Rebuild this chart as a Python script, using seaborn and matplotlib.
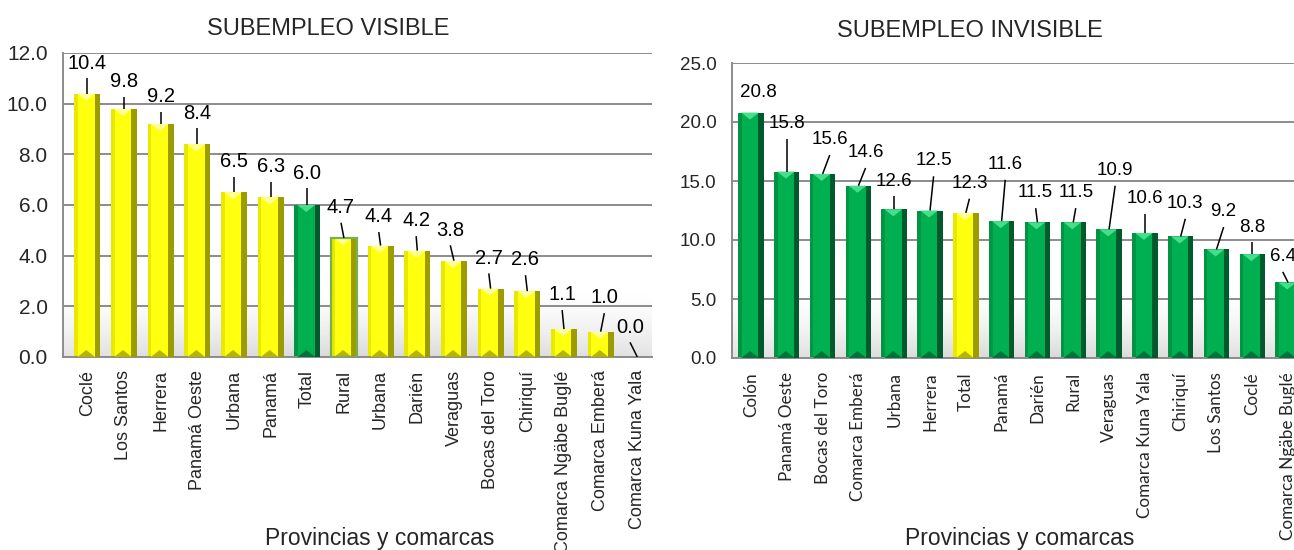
import numpy as np
import pandas as pd
import matplotlib
matplotlib.use("Agg")
import matplotlib.pyplot as plt
from matplotlib.path import Path
import seaborn as sns

# ---------------- data ----------------
visible_labels = ['Coclé', 'Los Santos', 'Herrera', 'Panamá Oeste', 'Urbana', 'Panamá',
                  'Total', 'Rural', 'Urbana', 'Darién', 'Veraguas', 'Bocas del Toro',
                  'Chiriquí', 'Comarca Ngäbe Buglé', 'Comarca Emberá', 'Comarca Kuna Yala']
visible_values = [10.4, 9.8, 9.2, 8.4, 6.5, 6.3, 6.0, 4.7, 4.4, 4.2, 3.8, 2.7, 2.6, 1.1, 1.0, 0.0]

invisible_labels = ['Colón', 'Panamá Oeste', 'Bocas del Toro', 'Comarca Emberá', 'Urbana',
                    'Herrera', 'Total', 'Panamá', 'Darién', 'Rural', 'Veraguas',
                    'Comarca Kuna Yala', 'Chiriquí', 'Los Santos', 'Coclé', 'Comarca Ngäbe Buglé']
invisible_values = [20.8, 15.8, 15.6, 14.6, 12.6, 12.5, 12.3, 11.6, 11.5, 11.5, 10.9, 10.6,
                    10.3, 9.2, 8.8, 6.4]

# label placement (offsets from bar top: category units, data units)
visible_dx = [0, 0, 0, 0, 0, 0, 0, -0.08, -0.05, -0.03, -0.1, -0.05, -0.05, -0.05, 0.1, -0.2]
visible_dy = [1.2, 1.06, 1.07, 1.23, 1.2, 1.2, 1.26, 1.2, 1.13, 1.17, 1.21, 1.2, 1.23, 1.35, 1.33, 1.18]
invisible_dx = [0.2, 0, 0.2, 0.2, 0, 0.1, 0.1, 0.1, -0.05, 0.07, 0.17, 0, 0.13, 0.2, 0, -0.15]
invisible_dy = [1.7, 4.1, 2.9, 2.8, 2.4, 4.2, 2.5, 4.8, 2.5, 2.5, 5.0, 2.9, 2.8, 3.2, 2.3, 2.2]

YELLOW = dict(left='#E8E800', face='#FFFF10', right='#9C9C00', tip='#FFFF9A', base='#B5B500')
GREEN = dict(left='#009443', face='#00B050', right='#005A2C', tip='#45DE8A', base='#00733A')

sns.set_theme(style="white")
plt.rcParams['font.family'] = ['Liberation Sans', 'DejaVu Sans']

fig = plt.figure(figsize=(12.94, 5.5), dpi=100)
W, H = 1294, 550


def px_axes(l, t, r, b):
    return fig.add_axes([l / W, 1 - b / H, (r - l) / W, (b - t) / H])


tip_marker = Path([(-1, 0), (1, 0), (0, -0.8), (-1, 0)])
base_marker = Path([(-1, 0), (1, 0), (0, 0.8), (-1, 0)])


def draw_panel(ax, labels, values, main, other, dxs, dys, ymax, ystep, gap,
               floor_h, xlim, tick_fs, tick_pad, val_fs, lab_font, lab_fs, lab_pad, outline=None):
    n = len(values)
    pal = [other if lab == 'Total' else main for lab in labels]
    df = pd.DataFrame({'pos': np.arange(n), 'val': values})
    w = 0.71
    sns.barplot(data=df, x='pos', y='val', hue='pos', palette=[p['left'] for p in pal],
                legend=False, width=w, saturation=1, ax=ax, zorder=2, linewidth=0)
    x = np.arange(n)
    v = np.array(values)
    rs, ls = 0.15, 0.10
    ax.bar(x + w / 2 - rs / 2, v, width=rs, color=[p['right'] for p in pal], zorder=3, linewidth=0)
    cw = w - rs - ls
    ax.bar(x - w / 2 + ls + cw / 2, v, width=cw, color=[p['face'] for p in pal], zorder=3, linewidth=0)
    cx = x - w / 2 + ls + cw / 2
    nz = v > 0
    ax.scatter(cx[nz], v[nz], marker=tip_marker, s=160, c=[p['tip'] for p, k in zip(pal, nz) if k],
               linewidths=0, zorder=4)
    ax.scatter(cx[nz], np.zeros(nz.sum()), marker=base_marker, s=160,
               c=[p['base'] for p, k in zip(pal, nz) if k], linewidths=0, zorder=4)
    if outline is not None:
        ax.bar(outline, values[outline], width=w, fill=False, edgecolor='#78B04A', linewidth=1.6, zorder=5)

    # floor shadow
    gy = np.linspace(0, 1, 80)[:, None]
    gx = np.linspace(0, 1, 200)[None, :]
    alpha = (gy ** 1.6) * 0.32 * (0.75 + 0.25 * np.sin(np.pi * gx))
    img = np.zeros((80, 200, 4))
    img[..., :3] = 0.55
    img[..., 3] = alpha
    ax.imshow(img, extent=[xlim[0], xlim[1], 0.05, floor_h], origin='upper', aspect='auto', zorder=1)

    # value labels with leader lines
    for i, (val, dx, dy) in enumerate(zip(values, dxs, dys)):
        ax.text(i + dx, val + dy, f"{val:.1f}", ha='center', va='center', fontsize=val_fs,
                color='black', zorder=6)
        if dy - gap > 0.5 * gap:
            ax.plot([i + dx, i], [val + dy - gap, val], color='black', lw=1.1, zorder=6,
                    solid_capstyle='butt')

    ax.set_xlim(*xlim)
    ax.set_ylim(0, ymax)
    ticks = np.arange(0, ymax + 0.01, ystep)
    ax.set_yticks(ticks)
    ax.set_yticklabels([f"{t:.1f}" for t in ticks], fontsize=tick_fs)
    ax.set_xticks(x)
    ax.set_xticklabels(labels, rotation=90, fontsize=lab_fs, family=lab_font, va='top')
    ax.tick_params(axis='x', length=0, pad=lab_pad)
    ax.tick_params(axis='y', length=0, pad=tick_pad)
    ax.grid(axis='y', color='#8C8C8C', linewidth=1.4)
    ax.set_axisbelow(True)
    ax.set_xlabel('')
    ax.set_ylabel('')
    for s in ['top', 'right']:
        ax.spines[s].set_visible(False)
    for s in ['left', 'bottom']:
        ax.spines[s].set_color('#8C8C8C')
        ax.spines[s].set_linewidth(1.4)
    ax.patch.set_alpha(0)


ax1 = px_axes(63, 53, 652, 357)
draw_panel(ax1, visible_labels, visible_values, YELLOW, GREEN, visible_dx, visible_dy,
           12, 2, 0.6, 2.7, (-0.66, 15.4), 15, 11, 14.5, ['Liberation Sans', 'DejaVu Sans'], 13, 9.5,
           outline=7)

ax2 = px_axes(732, 63, 1306, 358)
draw_panel(ax2, invisible_labels, invisible_values, GREEN, YELLOW, invisible_dx, invisible_dy,
           25, 5, 1.3, 5.5, (-0.53, 15.5), 13.5, 11, 13.5, ['Lato', 'DejaVu Sans'], 12.3, 10)

fig.text(328 / W, 1 - 35 / H, 'SUBEMPLEO VISIBLE', ha='center', va='baseline', fontsize=17)
fig.text(970 / W, 1 - 37 / H, 'SUBEMPLEO INVISIBLE', ha='center', va='baseline', fontsize=17)
fig.text(380 / W, 1 - 545 / H, 'Provincias y comarcas', ha='center', va='baseline', fontsize=16.5)
fig.text(1020 / W, 1 - 545 / H, 'Provincias y comarcas', ha='center', va='baseline', fontsize=16.5)

fig.savefig('out.png', dpi=100)
